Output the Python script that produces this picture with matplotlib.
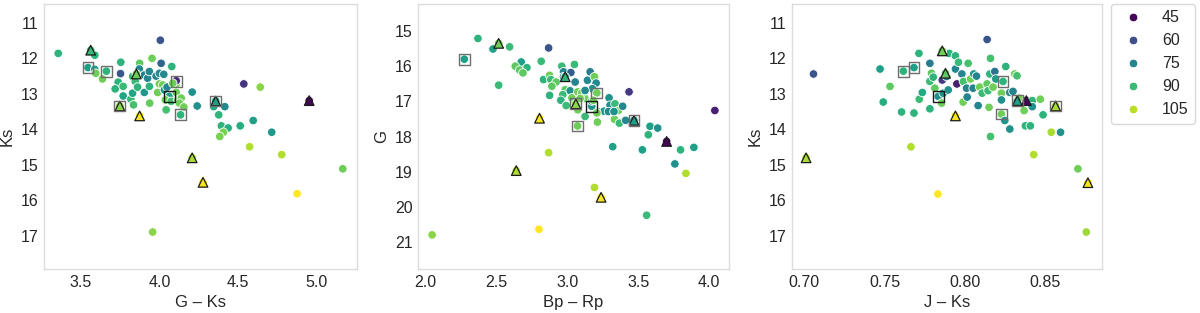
import matplotlib
matplotlib.use("Agg")
import matplotlib.pyplot as plt
import numpy as np
from matplotlib.colors import Normalize
from matplotlib.lines import Line2D

plt.rcParams['font.family'] = ['Liberation Sans', 'DejaVu Sans']

# ---------------- Panel 1: Ks vs G-Ks ----------------
p1_x = [3.355, 4.006, 3.588, 3.545, 3.588, 3.594, 3.637, 3.662, 3.754, 3.752, 3.737, 3.718, 3.769, 3.769,
        3.818, 3.835, 3.829, 3.829, 3.874, 3.872, 3.846, 3.904, 3.925, 3.936, 3.953, 4.011, 3.979, 4.000,
        4.028, 4.079, 4.107, 4.107, 3.861, 3.904, 3.936, 3.938, 3.989, 4.000, 4.021, 4.032, 4.049, 4.064,
        4.085, 4.107, 4.038, 4.075, 4.118, 4.139, 4.128, 4.156, 4.043, 4.135, 4.209, 4.241, 4.359, 4.417,
        4.346, 4.378, 4.538, 4.643, 4.395, 4.438, 4.408, 4.385, 4.515, 4.598, 4.716, 4.955, 4.575, 4.780,
        4.878, 5.169, 3.957, 3.562, 3.853, 3.748, 3.874, 4.209, 4.278]
p1_y = [11.86, 11.49, 11.91, 12.26, 12.31, 12.42, 12.58, 12.36, 12.11, 12.43, 12.67, 12.86, 12.79, 13.06,
        13.15, 13.31, 12.98, 12.51, 12.14, 12.30, 12.65, 12.47, 12.56, 12.37, 12.00, 12.14, 12.50, 12.42,
        12.45, 12.23, 12.72, 12.63, 12.81, 12.96, 12.79, 13.26, 12.96, 12.72, 12.75, 12.89, 12.81, 13.07,
        12.70, 12.96, 13.17, 13.21, 13.17, 13.12, 13.26, 13.37, 13.45, 13.59, 12.95, 13.34, 13.20, 13.36,
        13.36, 13.59, 12.72, 12.81, 13.90, 13.96, 14.08, 14.20, 13.90, 13.75, 14.08, 13.19, 14.49, 14.71,
        15.81, 15.11, 16.89, 11.77, 12.44, 13.34, 13.62, 14.80, 15.49]
p1_hue = [88, 62, 88, 82, 82, 97, 97, 88, 88, 62, 88, 88, 90, 84,
          90, 92, 84, 90, 95, 76, 90, 72, 75, 76, 97, 66, 74, 76,
          76, 88, 97, 52, 88, 80, 88, 96, 97, 97, 97, 82, 76, 82,
          97, 97, 97, 92, 97, 97, 97, 97, 92, 88, 78, 78, 82, 76,
          86, 88, 54, 100, 88, 86, 98, 98, 86, 82, 80, 45, 104, 104,
          112, 97, 100, 90, 97, 100, 111, 103, 111]
p1_tri_x = [3.562, 3.853, 3.748, 3.874, 4.359, 4.955, 4.209, 4.278]
p1_tri_y = [11.77, 12.44, 13.34, 13.62, 13.20, 13.19, 14.80, 15.49]
p1_tri_hue = [90, 97, 100, 111, 82, 45, 103, 111]
p1_sq_x = [3.545, 3.662, 4.110, 4.135, 3.748, 4.359]
p1_sq_y = [12.26, 12.36, 12.65, 13.59, 13.34, 13.20]
p1_sqk_x = [4.064]
p1_sqk_y = [13.07]

# ---------------- Panel 2: G vs Bp-Rp ----------------
p2_x = [2.370, 2.476, 2.593, 2.868, 2.274, 2.675, 2.715, 2.633, 2.664, 2.687, 2.816, 2.516, 2.832, 2.875,
        2.884, 2.921, 2.891, 2.875, 2.961, 2.973, 2.973, 3.050, 3.025, 3.055, 2.985, 3.020, 2.968, 2.954,
        2.992, 3.032, 3.074, 3.060, 3.114, 3.125, 3.142, 3.161, 3.191, 3.203, 3.177, 3.208, 3.125, 3.072,
        3.172, 3.172, 3.212, 3.226, 3.259, 3.294, 3.301, 3.336, 3.329, 3.360, 3.332, 3.367, 3.390, 3.411,
        3.470, 3.435, 3.320, 3.583, 3.637, 3.571, 3.529, 3.700, 3.798, 3.892, 3.758, 3.836, 4.040, 2.868,
        2.804, 2.640, 3.191, 3.238, 3.559, 2.800, 2.047, 2.516, 2.985, 3.102, 3.125, 3.074, 3.090, 3.184,
        3.208, 3.290, 3.329]
p2_y = [15.21, 15.51, 15.45, 15.48, 15.80, 15.88, 16.04, 16.00, 16.11, 16.19, 15.86, 16.54, 16.38, 16.26,
        16.38, 16.45, 16.57, 16.83, 16.00, 16.16, 16.30, 15.95, 16.18, 16.45, 16.67, 16.70, 16.81, 16.97,
        17.12, 16.90, 16.73, 17.07, 16.73, 16.92, 16.40, 16.16, 16.30, 16.48, 16.64, 16.76, 17.43, 17.70,
        17.14, 16.99, 17.59, 17.30, 17.28, 16.90, 17.11, 17.07, 17.30, 17.26, 17.51, 17.62, 17.14, 17.54,
        17.54, 16.73, 18.29, 17.71, 17.76, 17.95, 18.38, 18.14, 18.38, 18.31, 18.78, 19.05, 17.26, 18.46,
        17.48, 18.97, 19.45, 19.73, 20.24, 20.64, 20.80, 15.35, 16.30, 16.76, 16.69, 17.24, 16.92, 16.97,
        17.33, 17.29, 17.29]
p2_hue = [88, 83, 90, 62, 82, 83, 88, 95, 95, 95, 90, 90, 88, 97,
          90, 95, 95, 88, 90, 76, 72, 90, 64, 74, 95, 78, 90, 88,
          90, 97, 97, 100, 97, 97, 76, 72, 97, 76, 78, 97, 90, 97,
          80, 76, 97, 97, 80, 78, 78, 90, 82, 97, 97, 90, 76, 76,
          82, 55, 83, 83, 78, 88, 83, 45, 88, 83, 78, 104, 50, 104,
          111, 104, 104, 111, 90, 112, 100, 97, 88, 97, 76, 97, 97, 97,
          97, 76, 78]
p2_tri_x = [2.516, 2.985, 3.060, 2.804, 2.640, 3.238, 3.470, 3.700]
p2_tri_y = [15.35, 16.30, 17.07, 17.48, 18.97, 19.73, 17.54, 18.14]
p2_tri_hue = [97, 88, 100, 111, 104, 111, 82, 45]
p2_sq_x = [2.274, 3.060, 3.208, 3.072, 3.470]
p2_sq_y = [15.80, 17.07, 16.76, 17.70, 17.54]
p2_sqk_x = [3.172]
p2_sqk_y = [17.14]

# ---------------- Panel 3: Ks vs J-Ks ----------------
p3_x = [0.7058, 0.7472, 0.7492, 0.7534, 0.7606, 0.7617, 0.7683, 0.7683, 0.7664, 0.7714, 0.7716, 0.7735,
        0.7782, 0.7782, 0.7792, 0.7803, 0.7782, 0.7813, 0.7834, 0.7859, 0.7855, 0.7865, 0.7886, 0.7896,
        0.7902, 0.7941, 0.7941, 0.7950, 0.7960, 0.7981, 0.7991, 0.7989, 0.7832, 0.8020, 0.8010, 0.8014,
        0.8035, 0.8055, 0.8072, 0.8051, 0.8082, 0.8092, 0.8107, 0.8138, 0.8138, 0.8144, 0.8155, 0.8159,
        0.8150, 0.8159, 0.8175, 0.8186, 0.8192, 0.8227, 0.8237, 0.8227, 0.8227, 0.8248, 0.8254, 0.8279,
        0.8279, 0.8299, 0.8310, 0.8324, 0.8326, 0.8337, 0.8368, 0.8382, 0.8376, 0.8407, 0.8419, 0.8419,
        0.8428, 0.8469, 0.8486, 0.8537, 0.8564, 0.8595, 0.8703, 0.8765, 0.8755, 0.7012, 0.7859, 0.7879,
        0.7941]
p3_y = [12.44, 12.30, 13.23, 12.79, 13.51, 12.36, 12.26, 13.54, 14.49, 11.86, 13.15, 12.96,
        12.14, 12.65, 12.42, 12.53, 13.42, 12.84, 13.07, 12.61, 13.26, 12.98, 12.51, 12.89,
        11.86, 11.93, 12.30, 12.72, 12.11, 12.44, 12.65, 13.23, 15.82, 12.14, 12.84, 13.09,
        12.58, 12.44, 12.50, 12.84, 13.33, 12.81, 12.98, 11.47, 12.72, 12.91, 12.44, 12.00,
        13.38, 14.20, 12.81, 12.37, 12.58, 12.98, 12.65, 13.17, 13.57, 13.75, 12.23, 13.99,
        12.96, 12.93, 12.44, 12.49, 13.19, 13.12, 13.47, 13.19, 13.90, 13.90, 13.19, 13.36,
        14.71, 13.15, 13.59, 14.08, 13.34, 14.08, 15.11, 15.50, 16.89, 14.80, 11.79, 12.42,
        13.62]
p3_hue = [62, 83, 86, 95, 88, 88, 83, 88, 104, 88, 90, 85,
          72, 90, 95, 88, 88, 95, 78, 55, 97, 78, 72, 78,
          88, 88, 75, 50, 90, 75, 92, 97, 112, 92, 75, 75,
          97, 80, 75, 75, 75, 97, 90, 62, 95, 90, 88, 92,
          97, 92, 97, 70, 82, 97, 88, 78, 97, 80, 88, 78,
          76, 75, 97, 92, 82, 97, 97, 45, 88, 88, 88, 78,
          104, 97, 88, 103, 103, 78, 97, 111, 102, 103, 97, 95,
          111]
p3_tri_x = [0.7012, 0.7859, 0.7879, 0.7941, 0.8326, 0.8382, 0.8564, 0.8765]
p3_tri_y = [14.80, 11.79, 12.42, 13.62, 13.19, 13.19, 13.34, 15.50]
p3_tri_hue = [103, 97, 95, 111, 82, 45, 103, 111]
p3_sq_x = [0.7617, 0.7683, 0.8237, 0.8227, 0.8326, 0.8564]
p3_sq_y = [12.36, 12.26, 12.65, 13.57, 13.19, 13.34]
p3_sqk_x = [0.7834]
p3_sqk_y = [13.07]

legend_levels = [45, 60, 75, 90, 105]
xlabels = ["G \u2013 Ks", "Bp \u2013 Rp", "J \u2013 Ks"]
ylabels = ["Ks", "G", "Ks"]
ylims = [(17.93, 10.47), (21.77, 14.23), (17.93, 10.47)]

cmap = plt.get_cmap("viridis")
norm = Normalize(44, 112)

fig = plt.figure(figsize=(12, 3.13), dpi=100)
rects = [[44/1200, 44/313, 313/1200, 265/313],
         [418/1200, 44/313, 311/1200, 265/313],
         [792/1200, 44/313, 310/1200, 265/313]]

panels = [
    (p1_x, p1_y, p1_hue, p1_tri_x, p1_tri_y, p1_tri_hue, p1_sq_x, p1_sq_y, p1_sqk_x, p1_sqk_y),
    (p2_x, p2_y, p2_hue, p2_tri_x, p2_tri_y, p2_tri_hue, p2_sq_x, p2_sq_y, p2_sqk_x, p2_sqk_y),
    (p3_x, p3_y, p3_hue, p3_tri_x, p3_tri_y, p3_tri_hue, p3_sq_x, p3_sq_y, p3_sqk_x, p3_sqk_y),
]

axes = []
for i, (rect, pan) in enumerate(zip(rects, panels)):
    x, y, h, tx, ty, th, sx, sy, kx, ky = pan
    ax = fig.add_axes(rect)
    ax.scatter(x, y, c=cmap(norm(np.array(h))), s=38, edgecolors='white', linewidths=0.6, zorder=2)
    ax.scatter(tx, ty, c=cmap(norm(np.array(th))), s=48, marker='^', edgecolors='#1a1a1a',
               linewidths=0.9, zorder=3)
    ax.scatter(sx, sy, facecolors='none', s=60, marker='s', edgecolors='#6e6e6e', linewidths=1.0, zorder=4)
    ax.scatter(kx, ky, facecolors='none', s=60, marker='s', edgecolors='#1a1a1a', linewidths=1.0, zorder=4)
    ax.set_ylim(*ylims[i])
    ax.set_xlabel(xlabels[i], fontsize=12, color='#262626')
    ax.set_ylabel(ylabels[i], fontsize=12, color='#262626')
    ax.tick_params(axis='both', length=0, labelsize=11.5, labelcolor='#262626', pad=4)
    for sp in ax.spines.values():
        sp.set_color('#dcdcdc')
        sp.set_linewidth(1.0)
    ax.grid(False)
    axes.append(ax)

axes[0].set_xticks([3.5, 4.0, 4.5, 5.0])
axes[0].set_yticks([11, 12, 13, 14, 15, 16, 17])
axes[1].set_xticks([2.0, 2.5, 3.0, 3.5, 4.0])
axes[1].set_yticks([15, 16, 17, 18, 19, 20, 21])
axes[2].set_xticks([0.70, 0.75, 0.80, 0.85])
axes[2].set_xticklabels(["0.70", "0.75", "0.80", "0.85"])
axes[2].set_yticks([11, 12, 13, 14, 15, 16, 17])

handles = [Line2D([0], [0], marker='o', linestyle='none', markersize=6.2,
                  markerfacecolor=cmap(norm(v)), markeredgecolor='white', markeredgewidth=0.6)
           for v in legend_levels]
leg = axes[2].legend(handles, [str(v) for v in legend_levels], loc='upper left',
                     bbox_to_anchor=(1.028, 1.0), borderaxespad=0, fontsize=11.5,
                     frameon=True, fancybox=True)
leg.get_frame().set_edgecolor('#d0d0d0')
for t in leg.get_texts():
    t.set_color('#262626')

fig.savefig("out.png", dpi=100)
